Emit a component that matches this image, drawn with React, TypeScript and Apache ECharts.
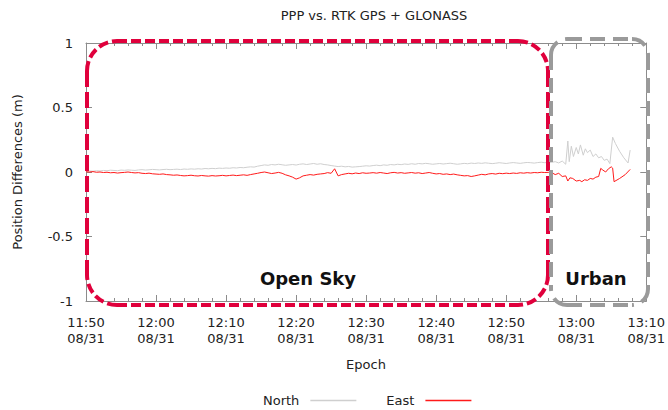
import React, { useEffect, useRef } from "react";
import * as echarts from "echarts";

// ---- data ----
const tickLabels = [
  "11:50\n08/31", "12:00\n08/31", "12:10\n08/31", "12:20\n08/31", "12:30\n08/31",
  "12:40\n08/31", "12:50\n08/31", "13:00\n08/31", "13:10\n08/31",
];
const xMin = 0; // minutes after 11:50
const xMax = 80;
const xStep = 10;
const openSkyEndMinute = 66;

const northOpenSky = [
  0.005, 0.008, 0.006, 0.010, 0.008, 0.012, 0.010, 0.014, 0.012, 0.010, 0.015, 0.013, 0.016, 0.014, 0.012, 0.016, 0.018, 0.015, 0.017, 0.020,
  0.018, 0.016, 0.019, 0.021, 0.018, 0.020, 0.022, 0.019, 0.023, 0.021, 0.024, 0.022, 0.025, 0.023, 0.027, 0.025, 0.028, 0.026, 0.030, 0.028,
  0.031, 0.029, 0.033, 0.031, 0.035, 0.033, 0.037, 0.040, 0.038, 0.045, 0.050, 0.055, 0.052, 0.058, 0.055, 0.060, 0.056, 0.052, 0.055, 0.058,
  0.054, 0.060, 0.063, 0.058, 0.062, 0.066, 0.060, 0.064, 0.058, 0.055, 0.050, 0.046, 0.042, 0.045, 0.040, 0.043, 0.038, 0.040, 0.042, 0.045,
  0.048, 0.046, 0.050, 0.053, 0.049, 0.055, 0.052, 0.058, 0.055, 0.060, 0.057, 0.062, 0.059, 0.064, 0.060, 0.066, 0.063, 0.067, 0.064, 0.060,
  0.063, 0.066, 0.062, 0.065, 0.068, 0.064, 0.060, 0.063, 0.067, 0.064, 0.069, 0.066, 0.070, 0.067, 0.071, 0.068, 0.065, 0.068, 0.072, 0.069,
  0.066, 0.070, 0.073, 0.070, 0.067, 0.071, 0.074, 0.072, 0.069, 0.073, 0.076, 0.072, 0.075,
];

const eastOpenSky = [
  0.002, 0.000, 0.003, -0.002, 0.000, -0.004, -0.002, -0.006, -0.004, -0.008, -0.005, -0.003, 0.000, -0.004, -0.007, -0.005, -0.010, -0.012, -0.009, -0.014,
  -0.016, -0.018, -0.015, -0.020, -0.022, -0.025, -0.023, -0.027, -0.030, -0.028, -0.025, -0.029, -0.031, -0.027, -0.030, -0.032, -0.028, -0.031, -0.029, -0.026,
  -0.030, -0.027, -0.024, -0.028, -0.025, -0.022, -0.026, -0.020, -0.015, -0.010, -0.004, 0.000, -0.006, -0.012, -0.008, -0.003, -0.010, -0.022, -0.030, -0.040,
  -0.055, -0.045, -0.030, -0.025, -0.020, -0.024, -0.018, -0.015, -0.012, -0.005, -0.010, 0.025, -0.030, -0.020, -0.015, -0.010, -0.014, -0.008, -0.012, -0.006,
  -0.010, -0.008, -0.005, -0.009, -0.004, -0.008, -0.012, -0.006, -0.003, -0.008, -0.005, -0.010, -0.007, -0.004, -0.009, -0.006, -0.012, -0.008, -0.004, -0.010,
  -0.015, -0.012, -0.018, -0.015, -0.020, -0.016, -0.022, -0.026, -0.030, -0.028, -0.035, -0.030, -0.024, -0.018, -0.022, -0.015, -0.012, -0.016, -0.010, -0.013,
  -0.009, -0.012, -0.008, -0.011, -0.006, -0.009, -0.005, -0.008, -0.004, -0.006, -0.002, -0.004, -0.003,
];

// urban section: [minute after 11:50, value]
const northUrban: [number, number][] = [
  [66.5, 0.075], [67, 0.08], [67.5, 0.07], [68, 0.085], [68.5, 0.06], [68.8, 0.24], [69, 0.08], [69.3, 0.2],
  [69.6, 0.12], [70, 0.19], [70.3, 0.14], [70.6, 0.21], [71, 0.13], [71.3, 0.18], [71.6, 0.15], [72, 0.17],
  [72.4, 0.12], [72.8, 0.14], [73.2, 0.11], [73.6, 0.12], [74, 0.09], [74.4, 0.1], [74.8, 0.065], [75.2, 0.27],
  [75.6, 0.22], [76.2, 0.16], [76.8, 0.11], [77.4, 0.07], [77.7, 0.17],
];
const eastUrban: [number, number][] = [
  [66.5, -0.005], [67, -0.02], [67.5, -0.01], [68, -0.035], [68.5, -0.03], [68.8, -0.07], [69.1, -0.045], [69.5, -0.05],
  [70, -0.07], [70.5, -0.065], [70.8, -0.075], [71.2, -0.06], [71.6, -0.065], [72, -0.05], [72.4, -0.055], [72.8, -0.04],
  [73.2, -0.035], [73.5, 0.028], [73.8, 0.015], [74.2, 0.0], [74.6, 0.025], [75, 0.04], [75.2, 0.03], [75.4, -0.075],
  [76.2, -0.05], [77, -0.02], [77.7, 0.02],
];

function buildSeries(open: number[], urban: [number, number][]) {
  const n = open.length;
  const pts: [number, number][] = open.map((v, i) => [(i * openSkyEndMinute) / (n - 1), v]);
  return pts.concat(urban);
}

const FONT = "DejaVu Sans";
const FRAME = "#8c8c8c";
const TEXT = "#222";

function dashedBox(
  x1: number, y1: number, x2: number, y2: number, r: number,
  color: string, width: number, dashH: number[], dashV: number[]
) {
  const base = { stroke: color, lineWidth: width, fill: null as any };
  const els: any[] = [
    { type: "line", shape: { x1: x1 + r, y1, x2: x2 - r, y2: y1 }, style: { ...base, lineDash: dashH } },
    { type: "line", shape: { x1: x1 + r, y1: y2, x2: x2 - r, y2 }, style: { ...base, lineDash: dashH } },
    { type: "line", shape: { x1, y1: y1 + r, x2: x1, y2: y2 - r }, style: { ...base, lineDash: dashV } },
    { type: "line", shape: { x1: x2, y1: y1 + r, x2, y2: y2 - r }, style: { ...base, lineDash: dashV } },
    { type: "arc", shape: { cx: x1 + r, cy: y1 + r, r, startAngle: Math.PI, endAngle: Math.PI * 1.5 }, style: { ...base, lineDash: dashH } },
    { type: "arc", shape: { cx: x2 - r, cy: y1 + r, r, startAngle: Math.PI * 1.5, endAngle: Math.PI * 2 }, style: { ...base, lineDash: dashH } },
    { type: "arc", shape: { cx: x2 - r, cy: y2 - r, r, startAngle: 0, endAngle: Math.PI * 0.5 }, style: { ...base, lineDash: dashH } },
    { type: "arc", shape: { cx: x1 + r, cy: y2 - r, r, startAngle: Math.PI * 0.5, endAngle: Math.PI }, style: { ...base, lineDash: dashH } },
  ];
  return els.map((e) => ({ ...e, silent: true, z: 100 }));
}

export default function App() {
  const ref = useRef<HTMLDivElement>(null);
  useEffect(() => {
    if (!ref.current) return;
    const chart = echarts.init(ref.current, undefined, { renderer: "svg" });
    const axisCommon = {
      type: "value" as const,
      axisLine: { show: true, onZero: false, lineStyle: { color: FRAME, width: 1 } },
      axisTick: { show: true, inside: true, length: 6, lineStyle: { color: FRAME } },
      splitLine: { show: false },
    };
    chart.setOption({
      animation: false,
      backgroundColor: "#fff",
      textStyle: { fontFamily: FONT },
      grid: { left: 86, top: 43, width: 561, height: 258 },
      xAxis: [
        {
          ...axisCommon,
          position: "bottom",
          min: xMin,
          max: xMax,
          interval: xStep,
          minorTick: { show: true, splitNumber: 5, length: 3, lineStyle: { color: FRAME } },
          axisLabel: {
            formatter: (v: number) => tickLabels[Math.round((v - xMin) / xStep)] ?? "",
            fontSize: 13,
            lineHeight: 16,
            margin: 13,
            color: TEXT,
            fontFamily: FONT,
          },
        },
        {
          ...axisCommon,
          position: "top",
          min: xMin,
          max: xMax,
          interval: xStep,
          minorTick: { show: true, splitNumber: 5, length: 3, lineStyle: { color: FRAME } },
          axisLabel: { show: false },
        },
      ],
      yAxis: [
        {
          ...axisCommon,
          position: "left",
          min: -1,
          max: 1,
          interval: 0.5,
          axisLabel: { fontSize: 13, margin: 13, color: TEXT, fontFamily: FONT },
        },
        {
          ...axisCommon,
          position: "right",
          min: -1,
          max: 1,
          interval: 0.5,
          axisLabel: { show: false },
        },
      ],
      legend: {
        left: 258,
        top: 389,
        align: "right",
        icon: "rect",
        itemWidth: 46,
        itemHeight: 1.5,
        itemGap: 30,
        textStyle: { fontSize: 13, color: TEXT, fontFamily: FONT, padding: [0, 6, 0, 0] },
        data: ["North", "East"],
      },
      series: [
        {
          name: "North",
          type: "line",
          showSymbol: false,
          symbol: "none",
          data: buildSeries(northOpenSky, northUrban),
          lineStyle: { color: "#cfcfcf", width: 1 },
          itemStyle: { color: "#cfcfcf" },
        },
        {
          name: "East",
          type: "line",
          showSymbol: false,
          symbol: "none",
          data: buildSeries(eastOpenSky, eastUrban),
          lineStyle: { color: "#ff1a1a", width: 1 },
          itemStyle: { color: "#ff1a1a" },
        },
      ],
      graphic: [
        {
          type: "text",
          x: 374,
          y: 15,
          style: { text: "PPP vs. RTK GPS + GLONASS", fontSize: 13, fontFamily: FONT, fill: TEXT, align: "center", verticalAlign: "middle" },
        },
        {
          type: "text",
          x: 17,
          y: 172,
          rotation: Math.PI / 2,
          style: { text: "Position Differences (m)", fontSize: 13, fontFamily: FONT, fill: TEXT, align: "center", verticalAlign: "middle" },
        },
        {
          type: "text",
          x: 366,
          y: 364,
          style: { text: "Epoch", fontSize: 13, fontFamily: FONT, fill: TEXT, align: "center", verticalAlign: "middle" },
        },
        ...dashedBox(87, 41, 548, 305, 30, "#e0003c", 4, [10, 4], [16, 5]),
        ...dashedBox(551, 39, 648, 305, 16, "#9a9a9a", 4, [15, 8], [15, 8]),
        {
          type: "text",
          x: 308,
          y: 278,
          z: 101,
          style: { text: "Open Sky", fontSize: 18, fontWeight: "bold", fontFamily: FONT, fill: "#111", align: "center", verticalAlign: "middle" },
        },
        {
          type: "text",
          x: 596,
          y: 278,
          z: 101,
          style: { text: "Urban", fontSize: 18, fontWeight: "bold", fontFamily: FONT, fill: "#111", align: "center", verticalAlign: "middle" },
        },
      ],
    });
    return () => chart.dispose();
  }, []);
  return <div ref={ref} style={{ position: "fixed", left: 0, top: 0, width: 668, height: 410 }} />;
}
